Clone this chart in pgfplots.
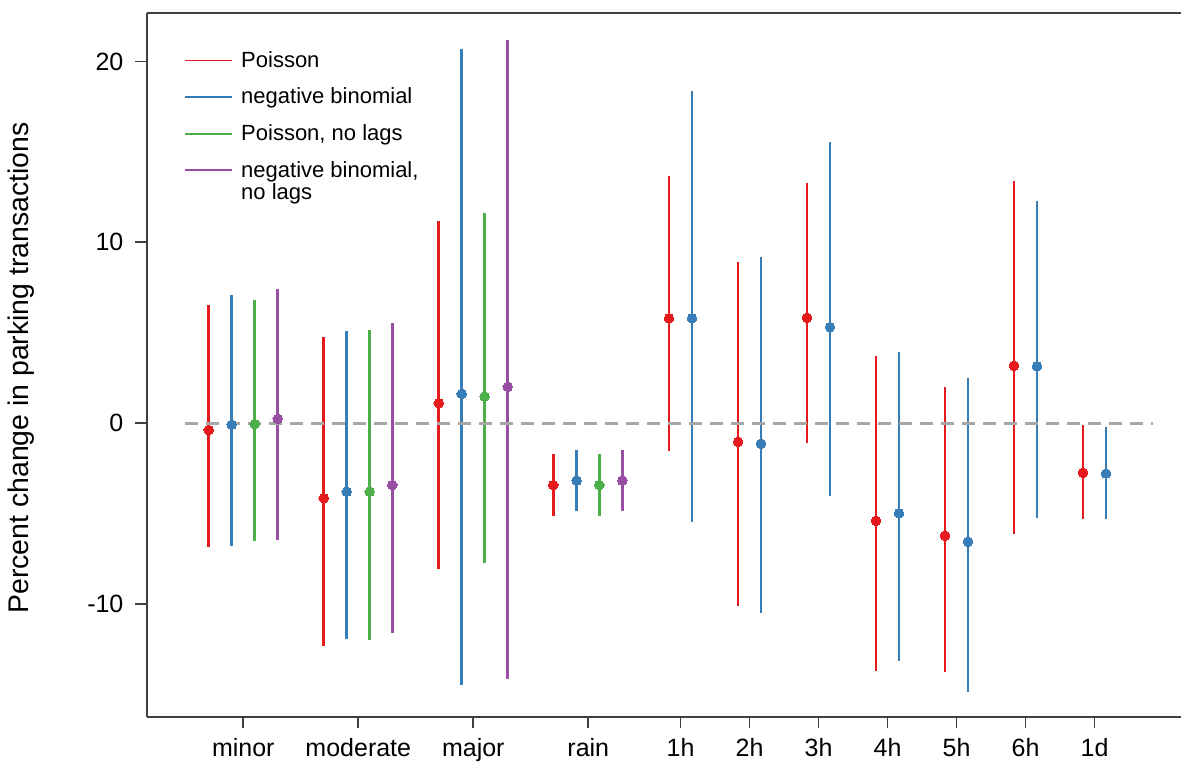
\documentclass[border=0pt]{standalone}
\usepackage{pgfplots}
\usepackage{pgfplotstable}
\pgfplotsset{compat=1.18}
\usepackage{fontspec}
\setmainfont{Liberation Sans}

\definecolor{cRed}{HTML}{E41A1C}
\definecolor{cBlue}{HTML}{377EB8}
\definecolor{cGreen}{HTML}{4DAF4A}
\definecolor{cPurple}{HTML}{984EA3}
\definecolor{cAxis}{HTML}{404040}

% x positions in pixel units of the original figure; columns: x, estimate, lower, upper
\pgfplotstableread{
x y lo hi
208.7 -0.37 -6.83 6.54
323.7 -4.14 -12.31 4.77
438.7 1.11 -8.04 11.18
553.3 -3.41 -5.12 -1.71
669 5.80 -1.53 13.68
738 -1.03 -10.09 8.93
807 5.83 -1.10 13.29
876 -5.39 -13.69 3.73
945 -6.21 -13.73 1.98
1014 3.18 -6.11 13.40
1083 -2.74 -5.31 -0.08
}\poisson

\pgfplotstableread{
x y lo hi
231.7 -0.08 -6.78 7.09
346.7 -3.78 -11.90 5.10
461.7 1.63 -14.49 20.70
576.7 -3.17 -4.85 -1.49
692 5.80 -5.44 18.37
761 -1.13 -10.48 9.17
830 5.32 -4.00 15.56
899 -4.97 -13.16 3.92
968 -6.55 -14.83 2.51
1037 3.16 -5.25 12.30
1106 -2.78 -5.31 -0.21
}\negbin

\pgfplotstableread{
x y lo hi
254.7 -0.04 -6.50 6.84
369.7 -3.78 -11.97 5.16
484.7 1.48 -7.72 11.60
599.3 -3.41 -5.12 -1.71
}\poissonnl

\pgfplotstableread{
x y lo hi
277.7 0.25 -6.45 7.41
392.3 -3.41 -11.57 5.54
507.7 2.02 -14.12 21.19
622.3 -3.17 -4.85 -1.49
}\negbinnl

\pgfplotsset{
  ci/.style={
    forget plot, color=#1,
    only marks, mark=*, mark size=2.4pt, mark options={solid, draw=#1, fill=#1, line width=0pt},
    error bars/y dir=both, error bars/y explicit, error bars/error mark=none,
    error bars/error bar style={line width=1.45pt, color=#1},
  },
}

\begin{document}
\begin{tikzpicture}
\begin{axis}[
  scale only axis,
  width=517pt, height=351.85pt,
  xmin=147, xmax=1181,
  ymin=-16.22, ymax=22.68,
  axis x line*=box, axis y line*=left,
  axis line style={cAxis, line width=0.9pt},
  tick style={cAxis, line width=0.9pt},
  tick align=outside,
  major tick length=5.75pt,
  xtick pos=lower,
  xtick={243.3,358.3,473.3,588.3,680.5,749.5,818.5,887.5,956.5,1025.5,1094.5},
  xticklabels={minor,moderate,major,rain,1h,2h,3h,4h,5h,6h,1d},
  ytick={-10,0,10,20},
  yticklabels={-10,0,10,20},
  ticklabel style={font=\fontsize{12.5}{15}\selectfont},
  xticklabel style={text height=9pt, text depth=0pt, inner sep=0pt, yshift=-5.1pt},
  yticklabel style={inner sep=0pt, anchor=east, xshift=-5.85pt},
  ylabel={Percent change in parking transactions},
  ylabel style={at={(axis description cs:0,0.4955)}, anchor=center, yshift=62.7pt,
    font=\fontsize{14.2}{17}\selectfont},
  legend style={at={(axis description cs:0.0358,0.946)}, anchor=north west,
    draw=none, fill=none, inner sep=0pt, row sep=8pt, column sep=4pt,
    font=\fontsize{11}{13}\selectfont,
    nodes={inner sep=0pt, text height=8pt, text depth=2.3pt}},
  legend cell align=left,
  legend image code/.code={\draw[#1] (0pt,0.6pt) -- (23.5pt,0.6pt);},
]
\addlegendimage{cRed, line width=0.9pt}
\addlegendentry{Poisson}
\addlegendimage{cBlue, line width=0.9pt}
\addlegendentry{negative binomial}
\addlegendimage{cGreen, line width=0.9pt}
\addlegendentry{Poisson, no lags}
\addlegendimage{cPurple, line width=0.9pt}
\addlegendentry{\begin{tabular}[t]{@{}l@{}}negative binomial,\\[-2pt] no lags\end{tabular}}

\addplot[ci=cRed] table[x=x, y=y,
  y error plus expr=\thisrow{hi}-\thisrow{y},
  y error minus expr=\thisrow{y}-\thisrow{lo}] {\poisson};
\addplot[ci=cBlue] table[x=x, y=y,
  y error plus expr=\thisrow{hi}-\thisrow{y},
  y error minus expr=\thisrow{y}-\thisrow{lo}] {\negbin};
\addplot[ci=cGreen] table[x=x, y=y,
  y error plus expr=\thisrow{hi}-\thisrow{y},
  y error minus expr=\thisrow{y}-\thisrow{lo}] {\poissonnl};
\addplot[ci=cPurple] table[x=x, y=y,
  y error plus expr=\thisrow{hi}-\thisrow{y},
  y error minus expr=\thisrow{y}-\thisrow{lo}] {\negbinnl};

% zero reference line
\addplot[forget plot, color=black!35, line width=1.3pt, dash pattern=on 6.5pt off 4pt]
  coordinates {(185,0) (1153,0)};
\end{axis}
\pgfresetboundingbox
\path (current axis.south west) ++(-73.5pt,-22.15pt) rectangle ([yshift=6.5pt]current axis.north east);
\end{tikzpicture}
\end{document}
